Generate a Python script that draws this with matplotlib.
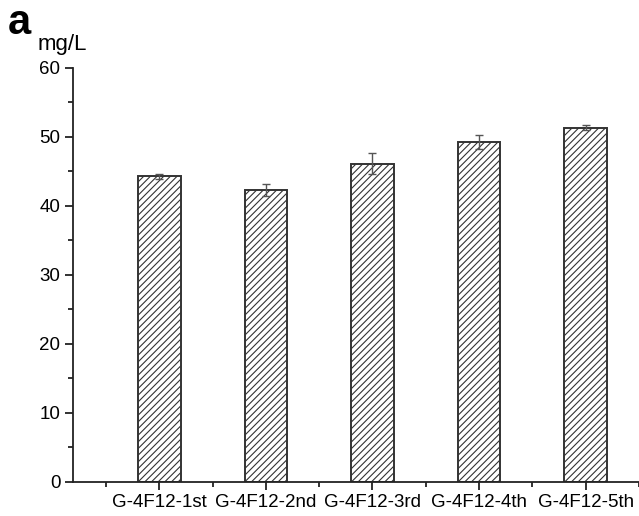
import matplotlib
matplotlib.use("Agg")
import matplotlib.pyplot as plt
from matplotlib.ticker import MultipleLocator, FixedLocator

DPI = 120
S = 100 / DPI  # point sizes below are given for 100 dpi, rescaled here

plt.rcParams['font.family'] = ['Liberation Sans', 'DejaVu Sans']
plt.rcParams['hatch.linewidth'] = 0.8 * S
plt.rcParams['hatch.color'] = '#444444'

categories = ["G-4F12-1st", "G-4F12-2nd", "G-4F12-3rd", "G-4F12-4th", "G-4F12-5th"]
values = [44.26, 42.32, 46.09, 49.23, 51.30]
errors = [0.38, 0.87, 1.48, 1.01, 0.31]
y_ticks = [0, 10, 20, 30, 40, 50, 60]

fig = plt.figure(figsize=(639 / DPI, 516 / DPI), dpi=DPI)
ax = fig.add_axes([0.114, 0.0665, 0.886, 0.8025])

x = list(range(1, len(categories) + 1))
ax.bar(x, values, width=0.4, color='white', edgecolor='#333333',
       linewidth=1.4 * S, hatch='//////', zorder=2)
ax.errorbar(x, values, yerr=errors, fmt='none', ecolor='#555555',
            elinewidth=1.0 * S, capsize=3 * S, capthick=1.0 * S, zorder=3)

ax.set_xlim(0.19, 5.5)
ax.set_ylim(0, 60)
ax.set_xticks(x)
ax.set_xticklabels(categories, fontsize=13.5 * S)
ax.xaxis.set_minor_locator(FixedLocator([0.5, 1.5, 2.5, 3.5, 4.5, 5.5]))
ax.set_yticks(y_ticks)
ax.set_yticklabels([str(t) for t in y_ticks], fontsize=13.5 * S)
ax.yaxis.set_minor_locator(MultipleLocator(5))

for side in ('top', 'right'):
    ax.spines[side].set_visible(False)
for side in ('left', 'bottom'):
    ax.spines[side].set_linewidth(1.3 * S)
    ax.spines[side].set_color('#222222')

ax.tick_params(which='major', direction='out', length=6 * S, width=1.3 * S,
               color='#222222', pad=3 * S)
ax.tick_params(which='minor', direction='out', length=3.5 * S, width=1.3 * S,
               color='#222222')

fig.text(8 / 639, 1 - 34 / 516, 'a', fontsize=30 * S, fontweight='bold',
         va='baseline', ha='left')
fig.text(38 / 639, 1 - 50 / 516, 'mg/L', fontsize=16 * S,
         va='baseline', ha='left')

fig.savefig('out.png', dpi=DPI)
